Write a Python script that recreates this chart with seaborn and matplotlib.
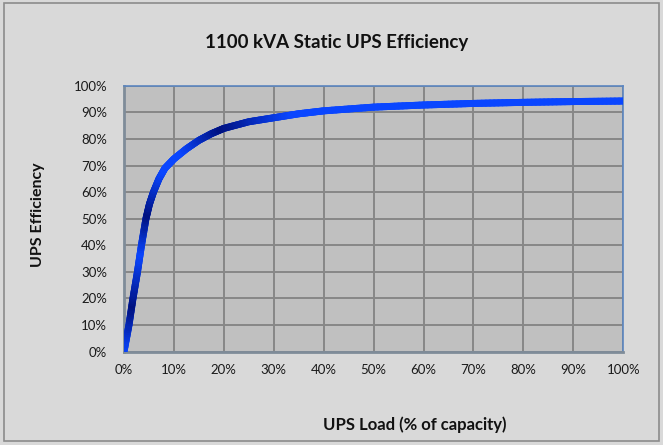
import numpy as np
import matplotlib
matplotlib.use("Agg")
import matplotlib.pyplot as plt
import seaborn as sns
from matplotlib.collections import LineCollection
from matplotlib.colors import LinearSegmentedColormap
from matplotlib.patches import Rectangle
from matplotlib.ticker import PercentFormatter

# =========================
# Dados
# =========================
load_pct = [0, 1, 1.8, 2.7, 3.5, 4.4, 5.1, 5.9, 7, 8.2, 10, 12.5, 15, 17.5,
            20, 25, 30, 35, 40, 50, 60, 70, 80, 90, 100]
efficiency_pct = [0, 10, 20, 30, 40, 50, 55.5, 60, 65, 69, 72.5, 76.3, 79.5, 82,
                  84, 86.5, 88, 89.5, 90.6, 92, 92.8, 93.4, 93.8, 94.1, 94.3]
x_ticks = list(range(0, 101, 10))
y_ticks = list(range(0, 101, 10))

title = "1100 kVA Static UPS Efficiency"
x_label = "UPS Load (% of capacity)"
y_label = "UPS Efficiency"

BRIGHT = "#0a46ff"
DARK = "#00117f"

sns.set_theme(style="white")
plt.rcParams["font.family"] = ["Lato", "DejaVu Sans"]

fig = plt.figure(figsize=(6.63, 4.45), dpi=100)
fig.patch.set_facecolor("#d9d9d9")
fig.patches.append(Rectangle((0.006, 0.008), 0.988, 0.985, transform=fig.transFigure,
                             fill=False, edgecolor="#8c8c8c", linewidth=1.2))

ax = fig.add_axes([0.187, 0.210, 0.753, 0.597])
ax.set_facecolor("#c0c0c0")

# linha base (seaborn) + gradiente ao longo do caminho
sns.lineplot(x=load_pct, y=efficiency_pct, ax=ax, color=BRIGHT, linewidth=5,
             solid_capstyle="butt", solid_joinstyle="round", zorder=3)

ax.set_xlim(0, 100)
ax.set_ylim(0, 100)
fig.canvas.draw()

xy = np.column_stack([load_pct, efficiency_pct]).astype(float)
# subdivide cada segmento só para a cor
sub = []
for a, b in zip(xy[:-1], xy[1:]):
    t = np.linspace(0, 1, 12, endpoint=False)[:, None]
    sub.append(a + (b - a) * t)
sub.append(xy[-1:])
pts = np.vstack(sub)
disp = ax.transData.transform(pts)
arc = np.concatenate([[0], np.cumsum(np.hypot(*np.diff(disp, axis=0).T))])
frac = arc / arc[-1]
cmap = LinearSegmentedColormap.from_list(
    "ups", [(0.0, BRIGHT), (0.07, DARK), (0.15, BRIGHT), (0.21, DARK),
            (0.28, BRIGHT), (0.32, BRIGHT), (0.39, DARK), (0.50, BRIGHT), (1.0, BRIGHT)])
segs = np.stack([pts[:-1], pts[1:]], axis=1)
lc = LineCollection(segs, colors=cmap((frac[:-1] + frac[1:]) / 2), linewidths=5,
                    capstyle="round", zorder=4)
ax.add_collection(lc)

ax.set_xticks(x_ticks)
ax.set_yticks(y_ticks)
ax.xaxis.set_major_formatter(PercentFormatter(decimals=0))
ax.yaxis.set_major_formatter(PercentFormatter(decimals=0))
ax.grid(True, color="#878787", linewidth=1.4)
ax.set_axisbelow(True)
ax.tick_params(axis="both", length=0, labelsize=9.5, colors="#1a1a1a")
ax.tick_params(axis="x", pad=9)
ax.tick_params(axis="y", pad=12)
for s in ["top", "right"]:
    ax.spines[s].set_color("#5b86c0")
    ax.spines[s].set_linewidth(1.2)
for s in ["left", "bottom"]:
    ax.spines[s].set_color("#7f8c99")
    ax.spines[s].set_linewidth(2)
ax.set_xlabel("")
ax.set_ylabel("")

fig.text(0.508, 0.905, title, ha="center", va="center", fontsize=13.5,
         fontweight="bold", color="#111111")
fig.text(0.626, 0.045, x_label, ha="center", va="center", fontsize=12,
         fontweight="bold", color="#111111")
fig.text(0.058, 0.517, y_label, ha="center", va="center", fontsize=11.5,
         fontweight="bold", rotation=90, color="#111111")

fig.savefig("out.png", dpi=100, facecolor=fig.get_facecolor())
